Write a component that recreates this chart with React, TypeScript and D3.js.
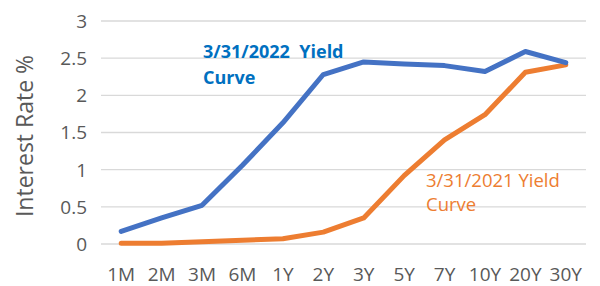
import { useEffect, useRef } from 'react'
import * as d3 from 'd3'

const categories = ['1M', '2M', '3M', '6M', '1Y', '2Y', '3Y', '5Y', '7Y', '10Y', '20Y', '30Y']
const yield2022 = [0.17, 0.35, 0.52, 1.06, 1.63, 2.28, 2.45, 2.42, 2.40, 2.32, 2.59, 2.44]
const yield2021 = [0.01, 0.01, 0.03, 0.05, 0.07, 0.16, 0.35, 0.92, 1.40, 1.74, 2.31, 2.41]
const yTicks = [0, 0.5, 1, 1.5, 2, 2.5, 3]

const width = 600
const height = 286
const font = '"Open Sans", "Liberation Sans", sans-serif'

export default function App() {
  const svgRef = useRef<SVGSVGElement>(null)

  useEffect(() => {
    if (!svgRef.current) return
    const svg = d3.select(svgRef.current)
    svg.selectAll('*').remove()

    const margin = { top: 21, right: 14, bottom: 42, left: 101 }

    const x = d3
      .scaleBand()
      .domain(categories)
      .range([margin.left, width - margin.right])

    const y = d3
      .scaleLinear()
      .domain([0, 3])
      .range([height - margin.bottom, margin.top])

    // gridlines
    svg
      .append('g')
      .selectAll('line')
      .data(yTicks)
      .enter()
      .append('line')
      .attr('x1', margin.left)
      .attr('x2', width - margin.right)
      .attr('y1', d => y(d))
      .attr('y2', d => y(d))
      .attr('stroke', '#D9D9D9')
      .attr('stroke-width', 1.3)

    // y tick labels
    svg
      .append('g')
      .selectAll('text')
      .data(yTicks)
      .enter()
      .append('text')
      .attr('x', 87)
      .attr('y', d => y(d))
      .attr('dy', '0.36em')
      .attr('text-anchor', 'end')
      .attr('font-family', font)
      .attr('font-size', 19)
      .attr('fill', '#595959')
      .text(d => String(d))

    // x tick labels
    svg
      .append('g')
      .selectAll('text')
      .data(categories)
      .enter()
      .append('text')
      .attr('x', d => x(d)! + x.bandwidth() / 2)
      .attr('y', 281)
      .attr('text-anchor', 'middle')
      .attr('font-family', font)
      .attr('font-size', 19)
      .attr('fill', '#595959')
      .text(d => d)

    // y axis title
    svg
      .append('text')
      .attr('transform', `translate(33,136) rotate(-90)`)
      .attr('text-anchor', 'middle')
      .attr('font-family', font)
      .attr('font-size', 23)
      .attr('fill', '#595959')
      .text('Interest Rate %')

    const line = d3
      .line<number>()
      .x((_, i) => x(categories[i])! + x.bandwidth() / 2)
      .y(d => y(d))

    svg
      .append('path')
      .datum(yield2021)
      .attr('d', line)
      .attr('fill', 'none')
      .attr('stroke', '#ED7D31')
      .attr('stroke-width', 5)
      .attr('stroke-linejoin', 'round')
      .attr('stroke-linecap', 'round')

    svg
      .append('path')
      .datum(yield2022)
      .attr('d', line)
      .attr('fill', 'none')
      .attr('stroke', '#4472C4')
      .attr('stroke-width', 5)
      .attr('stroke-linejoin', 'round')
      .attr('stroke-linecap', 'round')

    // labels
    const blue = svg
      .append('text')
      .attr('font-family', font)
      .attr('font-size', 18)
      .attr('font-weight', 'bold')
      .attr('fill', '#0070C0')
      .attr('xml:space', 'preserve')
    blue.append('tspan').attr('x', 203).attr('y', 58).text('3/31/2022  Yield')
    blue.append('tspan').attr('x', 203).attr('y', 84).text('Curve')

    const orange = svg
      .append('text')
      .attr('font-family', font)
      .attr('font-size', 18.5)
      .attr('fill', '#ED7D31')
    orange.append('tspan').attr('x', 426).attr('y', 187).text('3/31/2021 Yield')
    orange.append('tspan').attr('x', 426).attr('y', 211).text('Curve')
  }, [])

  return (
    <svg
      ref={svgRef}
      width={width}
      height={height}
      style={{ position: 'absolute', left: 0, top: 0, background: '#fff' }}
    />
  )
}
